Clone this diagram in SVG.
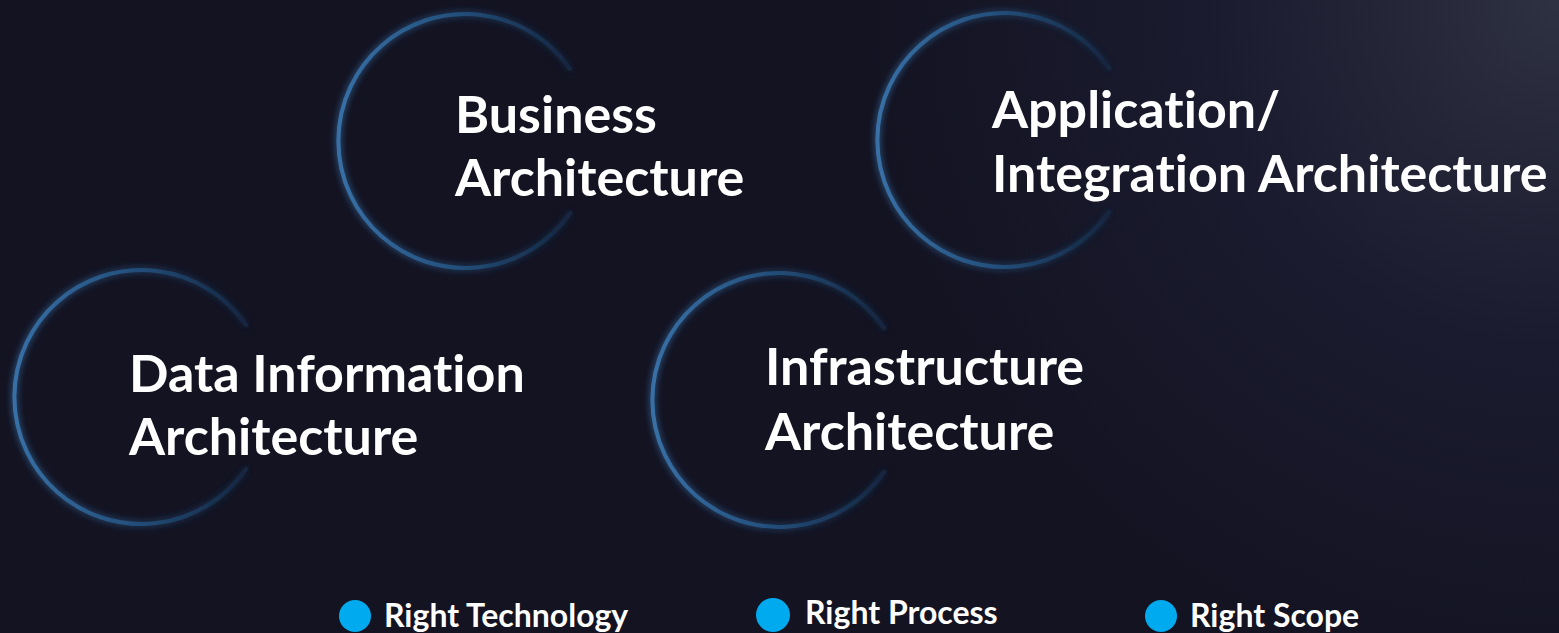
<svg xmlns="http://www.w3.org/2000/svg" width="1559" height="633" viewBox="0 0 1559 633">
<defs>
<radialGradient id="bg" cx="1" cy="0" r="1.1" gradientTransform="scale(0.406,1) translate(1.46,0)">
<stop offset="0" stop-color="#2e3142"/>
<stop offset="0.5" stop-color="#1a1b2e"/>
<stop offset="1" stop-color="#131322"/>
</radialGradient>
<linearGradient id="ring" x1="0" y1="0" x2="1" y2="0">
<stop offset="0" stop-color="#3870a6"/>
<stop offset="0.5" stop-color="#24507c"/>
<stop offset="1" stop-color="#142640"/>
</linearGradient>
<filter id="glow" x="-20%" y="-20%" width="140%" height="140%">
<feGaussianBlur stdDeviation="3.5" result="b"/>
<feMerge><feMergeNode in="b"/><feMergeNode in="SourceGraphic"/></feMerge>
</filter>
</defs>
<style>
.ring{fill:none;stroke:url(#ring);stroke-width:4;stroke-linecap:round;filter:url(#glow)}
.t{font-family:Lato,"Open Sans",sans-serif;font-weight:bold;fill:#ffffff;font-size:52px;font-variant-ligatures:none}
.lt{font-family:Lato,"Open Sans",sans-serif;font-weight:bold;fill:#ffffff;font-size:32px;font-variant-ligatures:none}
.dot{fill:#00aaee}
</style>
<rect width="1559" height="633" fill="#141424"/>
<rect width="1559" height="633" fill="url(#bg)"/>
<g id="business">
<path class="ring" transform="translate(466,141)" d="M 104 -72 A 127 127 0 1 0 104 72"/>
<text class="t" x="455" y="133">Business</text>
<text class="t" x="455" y="196">Architecture</text>
</g>
<g id="application">
<path class="ring" transform="translate(1005,140)" d="M 104 -72 A 127 127 0 1 0 104 72"/>
<text class="t" x="992" y="128">Application/</text>
<text class="t" x="992" y="192">Integration Architecture</text>
</g>
<g id="data">
<path class="ring" transform="translate(142,397)" d="M 104 -72 A 127 127 0 1 0 104 72"/>
<text class="t" x="129" y="392">Data Information</text>
<text class="t" x="129" y="455">Architecture</text>
</g>
<g id="infrastructure">
<path class="ring" transform="translate(780,400)" d="M 104 -72 A 127 127 0 1 0 104 72"/>
<text class="t" x="765" y="385">Infrastructure</text>
<text class="t" x="765" y="450">Architecture</text>
</g>
<g id="legend">
<circle class="dot" cx="355" cy="616" r="16"/>
<text class="lt" x="384" y="627">Right Technology</text>
<circle class="dot" cx="773" cy="615" r="17"/>
<text class="lt" x="805" y="624">Right Process</text>
<circle class="dot" cx="1161" cy="616" r="16"/>
<text class="lt" x="1190" y="627">Right Scope</text>
</g>
<g id="connectors"/>
</svg>
